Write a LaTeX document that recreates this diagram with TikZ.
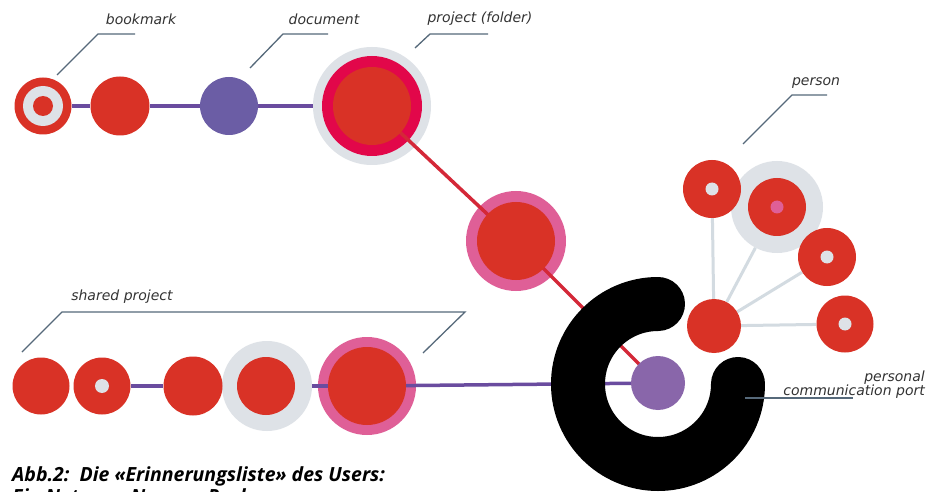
\documentclass[tikz,border=0pt]{standalone}
\usepackage{fontspec}
\setmainfont{DejaVu Sans}
\newfontfamily\capfont{Open Sans}
\usetikzlibrary{calc}
\definecolor{cred}{HTML}{D93226}
\definecolor{crimson}{HTML}{E2074A}
\definecolor{pinkr}{HTML}{DF5F97}
\definecolor{halogray}{HTML}{DEE2E7}
\definecolor{docpurple}{HTML}{6B5DA5}
\definecolor{portpurple}{HTML}{8966AA}
\definecolor{linepurple}{HTML}{6A4C9F}
\definecolor{linered}{HTML}{D42838}
\definecolor{spokegray}{HTML}{D3DBE1}
\definecolor{leadergray}{HTML}{56697A}
\definecolor{textgray}{HTML}{333333}
\pgfdeclarelayer{bg}
\pgfdeclarelayer{rings}
\pgfdeclarelayer{lines}
\pgfdeclarelayer{blackring}
\pgfsetlayers{bg,rings,lines,blackring,main}
\tikzset{
  reddisc/.style={circle, fill=cred, draw=none, inner sep=0pt, minimum size=#1},
  halo/.style={circle, fill=halogray, draw=none, inner sep=0pt, minimum size=#1},
  ring/.style={circle, fill=#1, draw=none, inner sep=0pt},
  holeg/.style={path picture={\fill[halogray] (path picture bounding box.center) circle (#1);}},
  holep/.style={path picture={\fill[pinkr] (path picture bounding box.center) circle (#1);}},
  pline/.style={draw=linepurple, line width=3.5pt},
  rline/.style={draw=linered, line width=3.5pt},
  spoke/.style={draw=spokegray, line width=3pt},
  leader/.style={draw=leadergray, line width=1.3pt},
  lab/.style={font=\fontsize{14}{16}\selectfont\itshape, text=textgray, inner sep=0pt},
  capt/.style={font=\capfont\fontsize{19.5}{23}\selectfont\bfseries\itshape, text=black, inner sep=0pt, anchor=base west}
}
\begin{document}
\begin{tikzpicture}[x=1pt,y=-1pt]
\useasboundingbox (0,0) rectangle (938,492);
\begin{pgfonlayer}{bg}
\fill[white] (0,0) rectangle (938,492);
\end{pgfonlayer}

% rings and halos
\begin{pgfonlayer}{rings}
\node[halo=118pt] (projhalo) at (372,106) {};
\node[ring=crimson, minimum size=100pt] (projring) at (372,106) {};
\node[ring=pinkr, minimum size=100pt] (midring) at (516,241) {};
\node[halo=92pt] (Bhalo) at (777,207) {};
\node[halo=90pt] (S4halo) at (267,386) {};
\node[ring=pinkr, minimum size=98pt] (S5ring) at (367,386) {};
\end{pgfonlayer}

% discs (main layer)
\node[reddisc=57pt, path picture={\fill[halogray] (path picture bounding box.center) circle (20pt); \fill[cred] (path picture bounding box.center) circle (10pt);}] (bm) at (43,106) {};
\node[reddisc=59pt] (c2) at (120,106) {};
\node[circle, fill=docpurple, inner sep=0pt, minimum size=58pt] (doc) at (229,106) {};
\node[reddisc=78pt] (proj) at (372,106) {};
\node[reddisc=78pt] (mid) at (516,241) {};
\node[circle, fill=portpurple, inner sep=0pt, minimum size=54pt] (port) at (658,383) {};

\node[reddisc=58pt, holeg=6.5pt] (A) at (712,189) {};
\node[reddisc=58pt, holep=6.5pt] (B) at (777,207) {};
\node[reddisc=58pt, holeg=6.5pt] (C) at (827,257) {};
\node[reddisc=57pt, holeg=6.5pt] (D) at (845,324) {};
\node[reddisc=54pt] (E) at (714,326) {};

\node[reddisc=57pt] (S1) at (41,386) {};
\node[reddisc=57pt, holeg=7pt] (S2) at (102,386) {};
\node[reddisc=59pt] (S3) at (193,386) {};
\node[reddisc=58pt] (S4) at (266,386) {};
\node[reddisc=78pt] (S5) at (367,386) {};

% connectors
\begin{pgfonlayer}{lines}
\path[pline] (bm) -- (c2);
\path[pline] (c2) -- (doc);
\path[pline] (doc) -- (projhalo);
\path[rline] (proj.center) -- (mid.center);
\path[rline] (mid.center) -- (port.center);
\path[spoke] (E) -- (A);
\path[spoke] (E) -- (Bhalo);
\path[spoke] (E) -- (C);
\path[spoke] (E) -- (D);
\path[pline] (S2) -- (S3);
\path[pline] (S4halo) -- (S5.center);
\path[pline] (S5.center) -- (port.center);
\end{pgfonlayer}

% black C ring
\begin{pgfonlayer}{blackring}
\coordinate (cc) at (658,384);
\draw[black, line width=54pt, line cap=round] ([xshift=80pt]cc) arc[start angle=0, end angle=-270, radius=80pt];
\end{pgfonlayer}

% labels and leaders
\node[lab] (lbm) at (141,19) {bookmark};
\coordinate (bm1) at (57,75); \coordinate (bm2) at (98,34); \coordinate (bm3) at (135,34);
\draw[leader] (bm1) -- (bm2) -- (bm3);

\node[lab] (ldoc) at (324,19) {document};
\coordinate (d1) at (250,68); \coordinate (d2) at (283,34); \coordinate (d3) at (328,34);
\draw[leader] (d1) -- (d2) -- (d3);

\node[lab] (lproj) at (480,19) {project (folder)};
\coordinate (p1) at (415,48); \coordinate (p2) at (430,34); \coordinate (p3) at (488,34);
\draw[leader] (p1) -- (p2) -- (p3);

\node[lab] (lpers) at (816,83) {person};
\coordinate (q1) at (743,144); \coordinate (q2) at (792,95); \coordinate (q3) at (827,95);
\draw[leader] (q1) -- (q2) -- (q3);

\node[lab] (lshared) at (122,297) {shared project};
\coordinate (s1) at (22,352); \coordinate (s2) at (62,312); \coordinate (s3) at (465,312); \coordinate (s4) at (423,353);
\draw[leader] (s1) -- (s2) -- (s3) -- (s4);

\node[lab, anchor=base east] (lport1) at (925,381) {personal};
\node[lab, anchor=base east] (lport2) at (925,395) {communication port};
\coordinate (r1) at (745,398); \coordinate (r2) at (853,398);
\draw[leader] (r1) -- (r2);

% caption
\node[capt] (cap1) at (12,481) {Abb.2:\ \ Die «Erinnerungsliste» des Users:};
\node[capt] (cap2) at (12,503) {Ein Netz aus Namen, Rechnern};
\end{tikzpicture}
\end{document}
